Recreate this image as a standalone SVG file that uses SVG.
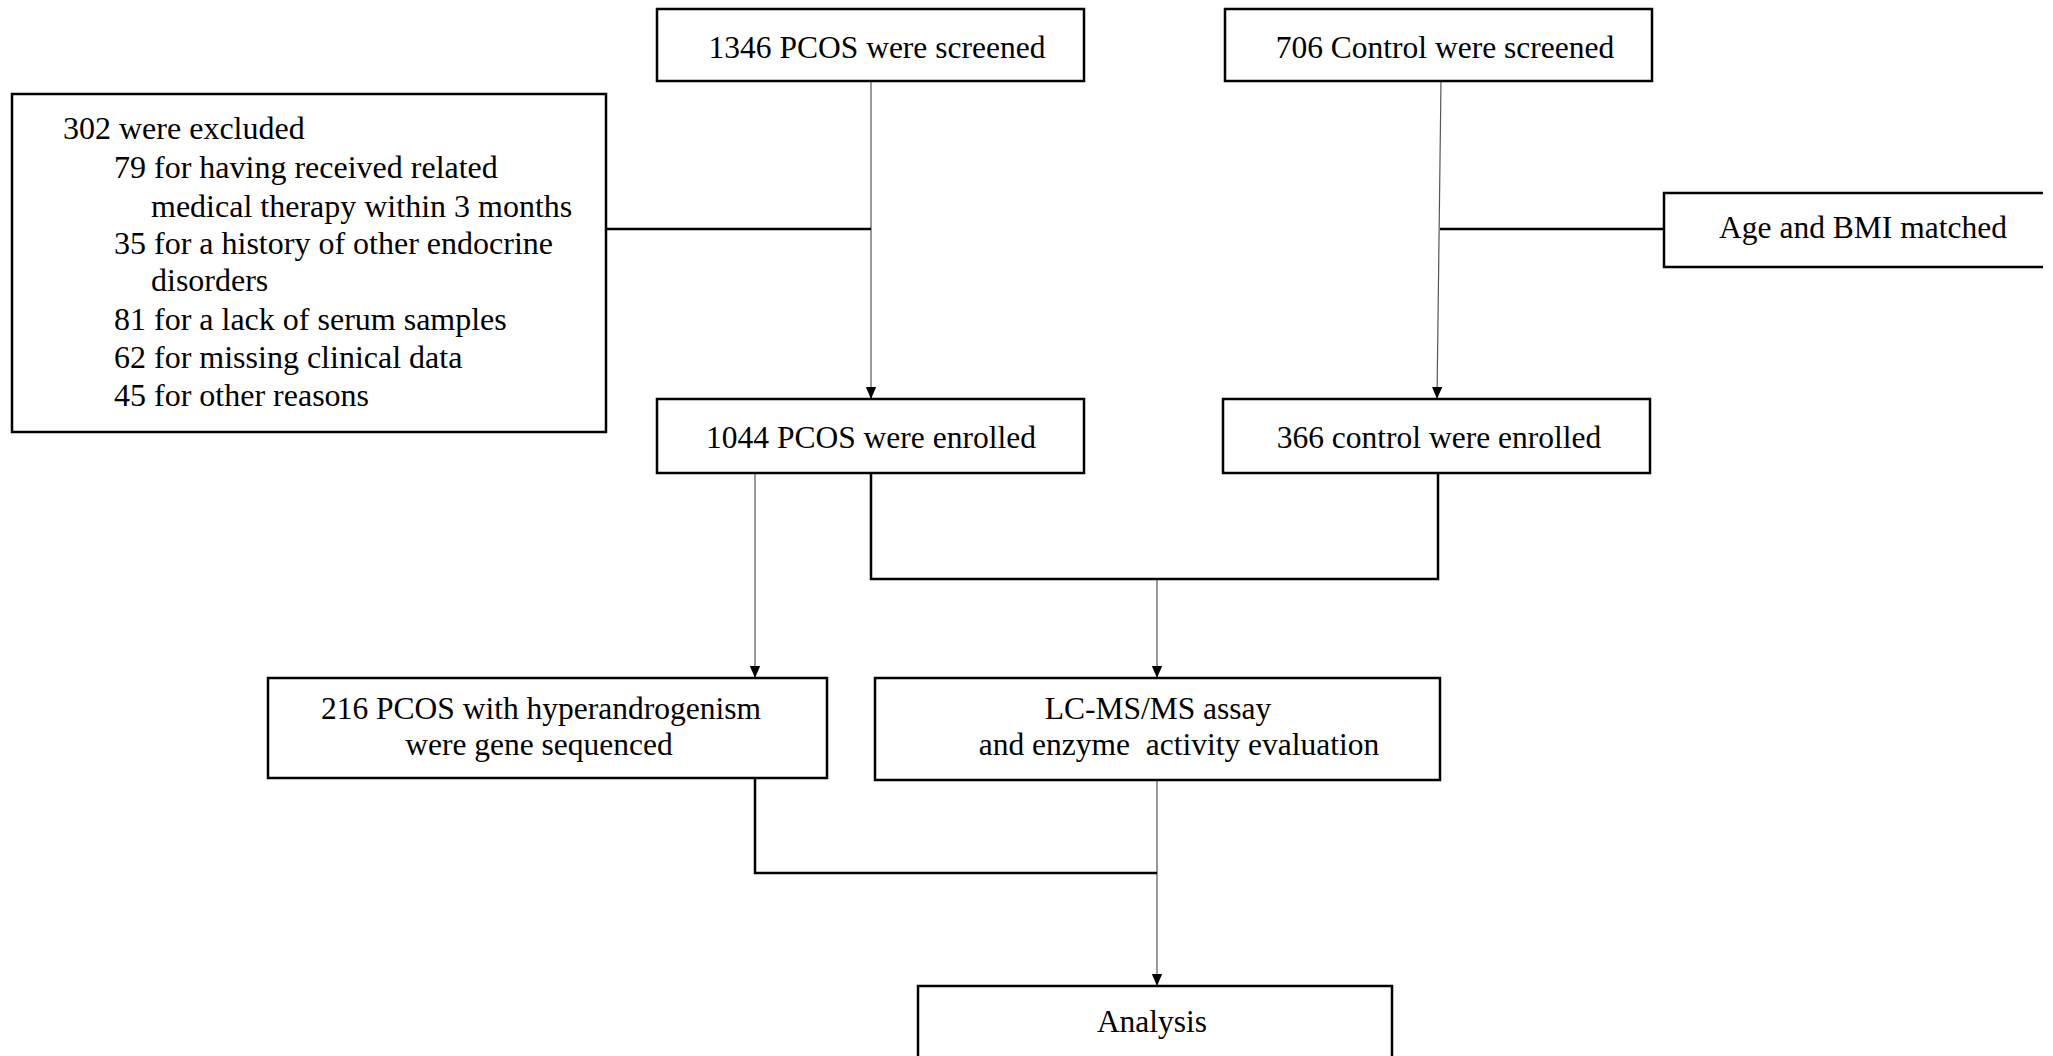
<svg xmlns="http://www.w3.org/2000/svg" width="2053" height="1056" viewBox="0 0 2053 1056">
<defs>
<marker id="arr" markerWidth="12" markerHeight="14" refX="14" refY="6" orient="auto" markerUnits="userSpaceOnUse" viewBox="0 0 14 12">
<path d="M0 0 L14 6 L0 12 Z" fill="#000"/>
</marker>
<style>
.box{fill:#fff;stroke:#000;stroke-width:2.5}
.t{font-family:"Liberation Serif","Times New Roman",serif;font-size:31.5px;fill:#000}
.ex{font-size:32px}
.c{text-anchor:middle}
.thin{stroke:#555;stroke-width:1.2;fill:none}
.thick{stroke:#000;stroke-width:2.5;fill:none}
</style>
</defs>
<rect width="2053" height="1056" fill="#fff"/>
<g id="connectors">
<line class="thin" x1="871" y1="81" x2="871" y2="399" marker-end="url(#arr)"/>
<line class="thin" x1="1441" y1="81" x2="1437" y2="399" marker-end="url(#arr)"/>
<line class="thin" x1="755" y1="473" x2="755" y2="678" marker-end="url(#arr)"/>
<line class="thin" x1="1157" y1="579" x2="1157" y2="678" marker-end="url(#arr)"/>
<line class="thin" x1="1157" y1="780" x2="1157" y2="986" marker-end="url(#arr)"/>
<line class="thick" x1="606" y1="229" x2="871" y2="229"/>
<line class="thick" x1="1440" y1="229" x2="1664" y2="229"/>
<path class="thick" d="M871 473 V579 H1438 V473"/>
<path class="thick" d="M755 778 V873 H1157"/>
</g>
<g id="n_pcos_screened">
<rect class="box" x="657" y="9" width="427" height="72"/>
<text class="t c" x="877" y="58">1346 PCOS were screened</text>
</g>
<g id="n_control_screened">
<rect class="box" x="1225" y="9" width="427" height="72"/>
<text class="t c" x="1445" y="58">706 Control were screened</text>
</g>
<g id="n_excluded">
<rect class="box" x="12" y="94" width="594" height="338"/>
<text class="t ex" x="63" y="139">302 were excluded</text>
<text class="t ex" x="114" y="178">79 for having received related</text>
<text class="t ex" x="151" y="217">medical therapy within 3 months</text>
<text class="t ex" x="114" y="254">35 for a history of other endocrine</text>
<text class="t ex" x="151" y="291">disorders</text>
<text class="t ex" x="114" y="330">81 for a lack of serum samples</text>
<text class="t ex" x="114" y="368">62 for missing clinical data</text>
<text class="t ex" x="114" y="406">45 for other reasons</text>
</g>
<g id="n_matched">
<path class="thick" d="M2043 193 H1664 V267 H2043"/>
<text class="t c" x="1863" y="238">Age and BMI matched</text>
</g>
<g id="n_pcos_enrolled">
<rect class="box" x="657" y="399" width="427" height="74"/>
<text class="t c" x="871" y="448">1044 PCOS were enrolled</text>
</g>
<g id="n_control_enrolled">
<rect class="box" x="1223" y="399" width="427" height="74"/>
<text class="t c" x="1439" y="448">366 control were enrolled</text>
</g>
<g id="n_gene">
<rect class="box" x="268" y="678" width="559" height="100"/>
<text class="t c" x="541" y="719">216 PCOS with hyperandrogenism</text>
<text class="t c" x="539" y="755">were gene sequenced</text>
</g>
<g id="n_lcms">
<rect class="box" x="875" y="678" width="565" height="102"/>
<text class="t c" x="1158" y="719">LC-MS/MS assay</text>
<text class="t c" x="1179" y="755" xml:space="preserve">and enzyme  activity evaluation</text>
</g>
<g id="n_analysis">
<rect class="box" x="918" y="986" width="474" height="80"/>
<text class="t c" x="1152" y="1032">Analysis</text>
</g>
</svg>
